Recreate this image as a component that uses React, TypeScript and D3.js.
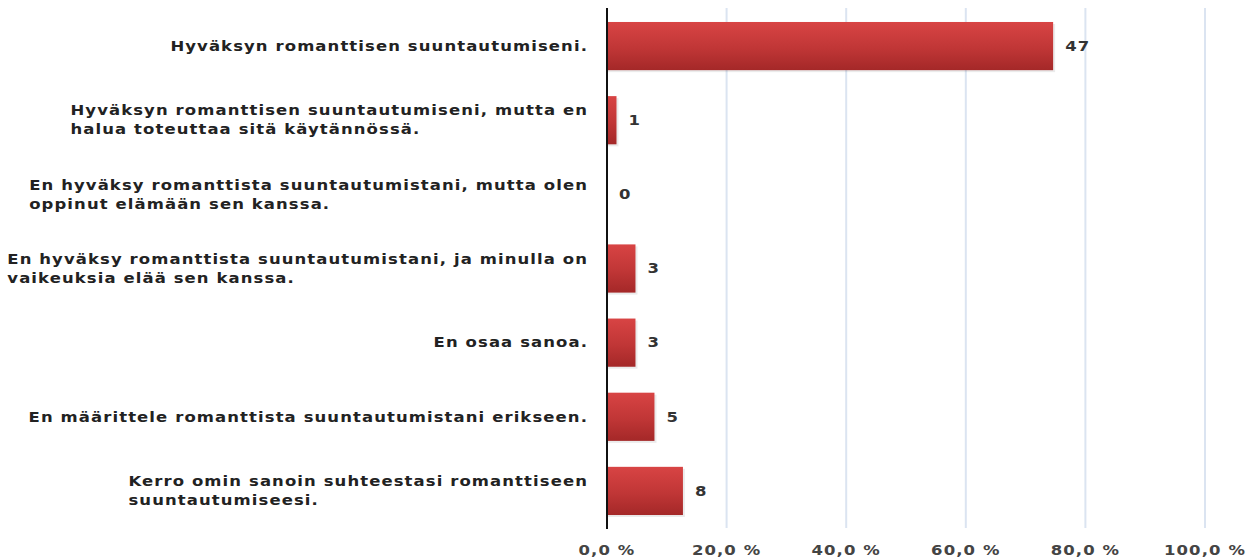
import { useEffect, useRef } from 'react';
import * as d3 from 'd3';

const categories: string[][] = [
  ['Hyväksyn romanttisen suuntautumiseni.'],
  ['Hyväksyn romanttisen suuntautumiseni, mutta en', 'halua toteuttaa sitä käytännössä.'],
  ['En hyväksy romanttista suuntautumistani, mutta olen', 'oppinut elämään sen kanssa.'],
  ['En hyväksy romanttista suuntautumistani, ja minulla on', 'vaikeuksia elää sen kanssa.'],
  ['En osaa sanoa.'],
  ['En määrittele romanttista suuntautumistani erikseen.'],
  ['Kerro omin sanoin suhteestasi romanttiseen', 'suuntautumiseesi.'],
];
const counts = [47, 1, 0, 3, 3, 5, 8];
const respondents = 63;
const ticks = [0, 20, 40, 60, 80, 100];

const App = () => {
  const svgRef = useRef<SVGSVGElement>(null);

  useEffect(() => {
    const svg = d3.select(svgRef.current);
    svg.selectAll('*').remove();

    const margin = { top: 9, left: 607 };
    const font = '"DejaVu Sans", Verdana, sans-serif';
    const stretch = 1.22; // the original text is wide, stretch horizontally

    const x = d3.scaleLinear().domain([0, 100]).range([margin.left, 1205]);
    const y = d3
      .scaleBand<number>()
      .domain(d3.range(categories.length))
      .range([margin.top, 528])
      .paddingInner(0.35)
      .paddingOuter(0.175);

    const defs = svg.append('defs');
    const grad = defs
      .append('linearGradient')
      .attr('id', 'barGrad')
      .attr('x1', 0)
      .attr('y1', 0)
      .attr('x2', 0)
      .attr('y2', 1);
    grad.append('stop').attr('offset', '0%').attr('stop-color', '#d84444');
    grad.append('stop').attr('offset', '55%').attr('stop-color', '#c03636');
    grad.append('stop').attr('offset', '100%').attr('stop-color', '#a42828');

    // grid
    svg
      .append('g')
      .selectAll('line')
      .data(ticks.slice(1))
      .enter()
      .append('line')
      .attr('x1', (d) => x(d))
      .attr('x2', (d) => x(d))
      .attr('y1', 8)
      .attr('y2', 528)
      .attr('stroke', '#dbe4f1')
      .attr('stroke-width', 2);

    // bars
    const pct = counts.map((c) => (c / respondents) * 100);
    svg
      .append('g')
      .selectAll('rect')
      .data(pct)
      .enter()
      .append('rect')
      .attr('x', x(0))
      .attr('y', (_, i) => (y(i) as number) + 2)
      .attr('width', (d) => Math.max(0, x(d) - x(0) + 2))
      .attr('height', y.bandwidth())
      .attr('fill', '#000')
      .attr('opacity', (d) => (d > 0 ? 0.08 : 0));

    svg
      .append('g')
      .selectAll('rect')
      .data(pct)
      .enter()
      .append('rect')
      .attr('x', x(0))
      .attr('y', (_, i) => y(i) as number)
      .attr('width', (d) => x(d) - x(0))
      .attr('height', y.bandwidth())
      .attr('fill', 'url(#barGrad)');

    const textAt = (parent, tx: number, ty: number) =>
      parent
        .append('g')
        .attr('transform', `translate(${tx},${ty}) scale(${stretch},1)`)
        .append('text')
        .attr('font-family', font)
        .attr('font-size', 13.5)
        .attr('font-weight', 'bold')
        .attr('letter-spacing', 0.9);

    // value labels
    const values = svg.append('g');
    counts.forEach((c, i) => {
      textAt(values, x(pct[i]) + 12, (y(i) as number) + y.bandwidth() / 2)
        .attr('dy', '0.35em')
        .attr('fill', '#333')
        .text(c);
    });

    // axis line
    svg
      .append('line')
      .attr('x1', x(0))
      .attr('x2', x(0))
      .attr('y1', 8)
      .attr('y2', 529)
      .attr('stroke', '#111')
      .attr('stroke-width', 2);

    // category labels: block right-aligned, lines left-aligned
    const labels = svg.append('g');
    categories.forEach((lines, i) => {
      const cy = (y(i) as number) + y.bandwidth() / 2;
      const t = textAt(labels, 588, cy).attr('fill', '#222');
      const spans = lines.map((line, j) =>
        t
          .append('tspan')
          .attr('y', (j - (lines.length - 1) / 2) * 19)
          .attr('dy', '0.35em')
          .text(line),
      );
      const w = d3.max(spans, (s) => (s.node() as SVGTextContentElement).getComputedTextLength()) ?? 0;
      spans.forEach((s) => s.attr('x', -w));
    });

    // tick labels
    const tickG = svg.append('g');
    ticks.forEach((d) => {
      textAt(tickG, x(d), 550)
        .attr('dy', '0.35em')
        .attr('text-anchor', 'middle')
        .attr('fill', '#444')
        .text(`${d.toFixed(1).replace('.', ',')} %`);
    });
  }, []);

  return (
    <svg
      ref={svgRef}
      width={1255}
      height={558}
      style={{ position: 'absolute', left: 0, top: 0, background: '#fff' }}
    />
  );
};

export default App;
